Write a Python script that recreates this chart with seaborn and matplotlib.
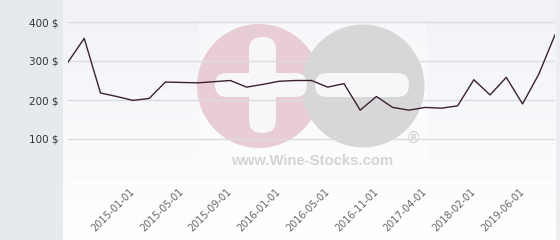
import numpy as np
import pandas as pd
import matplotlib
matplotlib.use("Agg")
import matplotlib.pyplot as plt
import seaborn as sns
from matplotlib.patches import Circle, FancyBboxPatch, Rectangle

# ---- data ----
dates = ["2014-06-01", "2014-08-01", "2014-10-01", "2014-11-01", "2015-01-01",
         "2015-02-01", "2015-04-01", "2015-05-01", "2015-06-01", "2015-08-01",
         "2015-09-01", "2015-10-01", "2015-12-01", "2016-01-01", "2016-02-01",
         "2016-04-01", "2016-05-01", "2016-07-01", "2016-09-01", "2016-11-01",
         "2017-01-01", "2017-02-01", "2017-04-01", "2017-07-01", "2017-10-01",
         "2018-02-01", "2018-06-01", "2018-10-01", "2019-06-01", "2019-09-01",
         "2019-12-01"]
prices = [297, 358, 218, 209, 199, 204, 246, 245, 244, 247, 250, 233, 240, 248,
          250, 250, 233, 242, 174, 209, 181, 174, 181, 179, 185, 252, 213, 258,
          190, 266, 367]
tick_idx = [4, 7, 10, 13, 16, 19, 22, 25, 28]
y_ticks = [100, 200, 300, 400]

df = pd.DataFrame({"idx": np.arange(len(prices)), "price": prices, "date": dates})

W, H = 560, 240
fig = plt.figure(figsize=(W / 100, H / 100), dpi=100)
fig.patch.set_facecolor("white")

# background layer in pixel coordinates
bg = fig.add_axes([0, 0, 1, 1], zorder=0)
bg.set_xlim(0, W)
bg.set_ylim(H, 0)
bg.axis("off")
grad = np.linspace(0, 1, 256).reshape(-1, 1)
top = np.array([0.945, 0.950, 0.970])
bot = np.array([1.0, 1.0, 1.0])
img = top[None, None, :] * (1 - grad[:, :, None]) + bot[None, None, :] * grad[:, :, None]
bg.imshow(img, extent=[63, W, H, 0], aspect="auto", zorder=0)
bg.add_patch(Rectangle((0, 0), 63, H, color="#e6eaed", zorder=1, lw=0))
bg.add_patch(Rectangle((556, 0), 4, H, color="#eceef2", zorder=1, lw=0))
# watermark
bg.add_patch(FancyBboxPatch((199, 22), 228, 151, boxstyle="round,pad=0,rounding_size=4",
                            fc="white", ec="none", alpha=0.45, zorder=2))
bg.add_patch(Circle((259, 86), 62, fc="#e9cdd4", ec="none", zorder=3))
bg.add_patch(Circle((363, 86), 61.5, fc="#d7d7d7", ec="none", zorder=4))
wb = "#f7f7fa"
bg.add_patch(FancyBboxPatch((249, 37), 27, 96, boxstyle="round,pad=0,rounding_size=13",
                            fc=wb, ec="none", zorder=5))
bg.add_patch(FancyBboxPatch((215, 73), 92, 24, boxstyle="round,pad=0,rounding_size=12",
                            fc=wb, ec="none", zorder=5))
bg.add_patch(FancyBboxPatch((315, 73), 94, 24, boxstyle="round,pad=0,rounding_size=12",
                            fc=wb, ec="none", zorder=5))
bg.text(413, 138, "®", ha="center", va="center", fontsize=11, color="#d0d0d0",
        family="DejaVu Sans", zorder=6)
bg.text(312, 161, "www.Wine-Stocks.com", ha="center", va="center", fontsize=10.7,
        fontweight="bold", color="#d4d4d4", family="Liberation Sans", zorder=6)

# plot axes
x0, x1 = 68, 555
y_top, y_bot = 0, 178
ax = fig.add_axes([x0 / W, 1 - y_bot / H, (x1 - x0) / W, (y_bot - y_top) / H], zorder=1)
ax.set_facecolor("none")
sns.lineplot(data=df, x="idx", y="price", ax=ax, color="#3a2033", lw=1.0, zorder=3)
ax.set_xlim(0, len(prices) - 1)
ax.set_ylim(0, 178 / 0.39)
ax.set_yticks(y_ticks)
ax.set_yticklabels([f"{v} $" for v in y_ticks], fontsize=7.5, color="#333333")
ax.set_xticks(tick_idx)
ax.set_xticklabels([dates[i] for i in tick_idx], rotation=45, ha="right", va="center",
                   rotation_mode="anchor", fontsize=7, color="#666666")
ax.tick_params(axis="both", length=0)
ax.tick_params(axis="y", pad=7)
ax.tick_params(axis="x", pad=9)
ax.grid(False)
for v in [0] + y_ticks:
    ax.axhline(v, color="#dcdcdc", lw=1, zorder=2)
for s in ax.spines.values():
    s.set_visible(False)
ax.set_xlabel("")
ax.set_ylabel("")

fig.savefig("out.png", dpi=100)
